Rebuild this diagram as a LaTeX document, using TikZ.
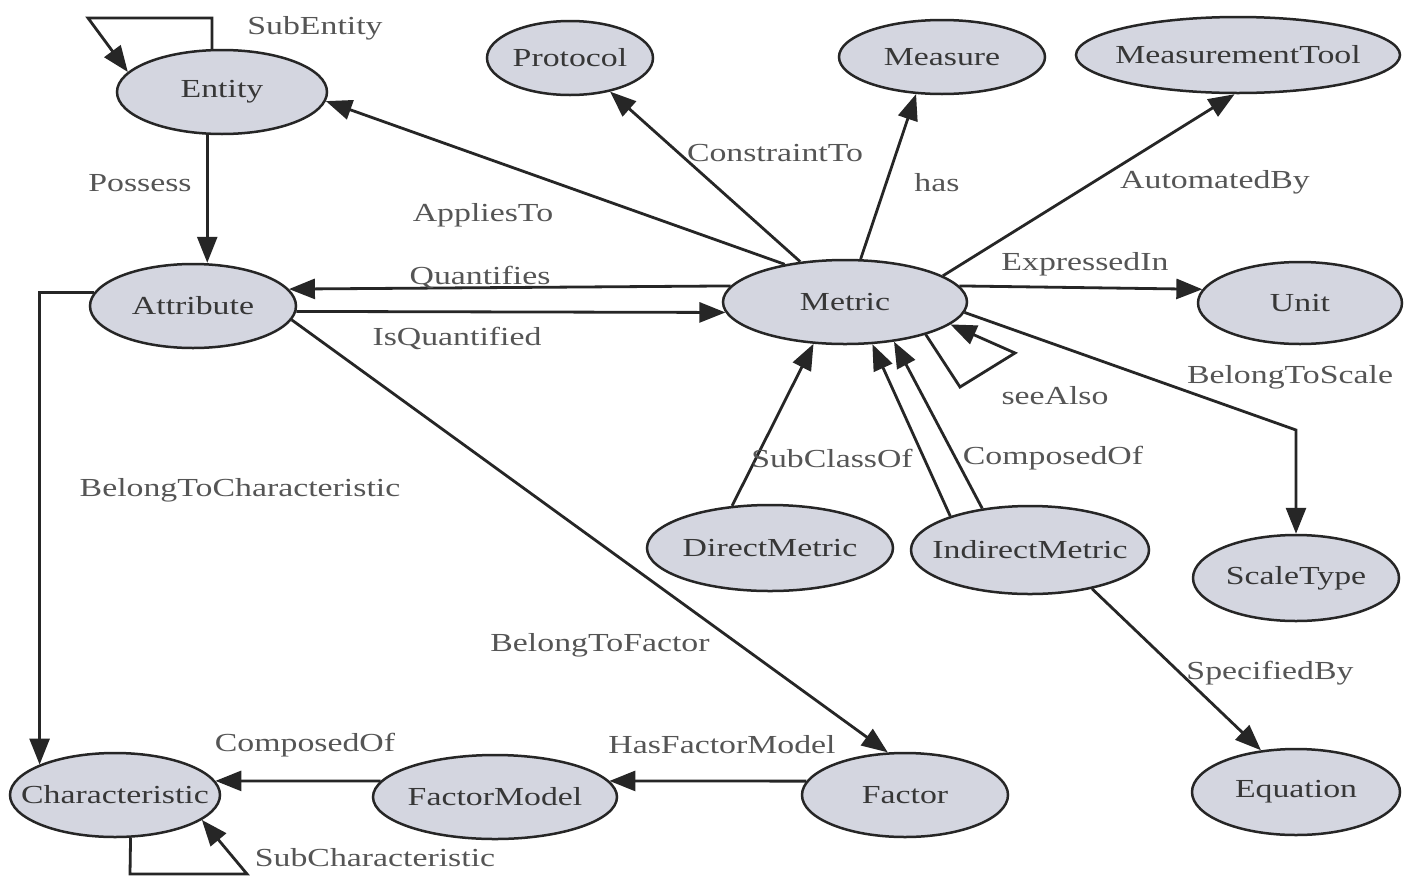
\documentclass[tikz,border=0pt]{standalone}
\usepackage{fontspec}
\setmainfont{Liberation Serif}
\usetikzlibrary{shapes.geometric,arrows.meta}
\definecolor{nodefill}{RGB}{212,214,224}
\definecolor{edgecol}{RGB}{38,38,38}
\definecolor{nodetext}{RGB}{55,55,55}
\definecolor{labeltext}{RGB}{85,85,85}
% wide serif lettering; zero-width box so the ellipse size is set by the style
\newcommand{\ctext}[1]{\makebox[0pt]{\scalebox{1.3}[1]{#1}}}
\newcommand{\ltext}[1]{\scalebox{1.3}[1]{#1}}
\begin{document}
\begin{tikzpicture}[x=1pt,y=-1pt,
  concept/.style={ellipse, draw=edgecol, line width=2.5pt, fill=nodefill,
    inner sep=0pt, text=nodetext, font=\fontsize{26}{30}\selectfont},
  rel/.style={text=labeltext, font=\fontsize{26}{30}\selectfont, inner sep=0pt},
  link/.style={draw=edgecol, line width=2.8pt, -{Triangle[length=26pt,width=20pt]}},
]
\useasboundingbox (0,0) rectangle (1405,876);
\fill[white] (0,0) rectangle (1405,876);

% concepts
\node[concept, minimum width=210pt, minimum height=84pt] (Entity) at (222,92) {\ctext{Entity}};
\node[concept, minimum width=166pt, minimum height=74pt] (Protocol) at (570,58) {\ctext{Protocol}};
\node[concept, minimum width=206pt, minimum height=74pt] (Measure) at (942,57) {\ctext{Measure}};
\node[concept, minimum width=324pt, minimum height=76pt] (MeasurementTool) at (1238,55) {\ctext{MeasurementTool}};
\node[concept, minimum width=206pt, minimum height=84pt] (Attribute) at (193,306) {\ctext{Attribute}};
\node[concept, minimum width=244pt, minimum height=84pt] (Metric) at (845,302) {\ctext{Metric}};
\node[concept, minimum width=204pt, minimum height=82pt] (Unit) at (1300,303) {\ctext{Unit}};
\node[concept, minimum width=246pt, minimum height=86pt] (DirectMetric) at (770,548) {\ctext{DirectMetric}};
\node[concept, minimum width=238pt, minimum height=88pt] (IndirectMetric) at (1030,550) {\ctext{IndirectMetric}};
\node[concept, minimum width=206pt, minimum height=86pt] (ScaleType) at (1296,578) {\ctext{ScaleType}};
\node[concept, minimum width=208pt, minimum height=86pt] (Equation) at (1296,792) {\ctext{Equation}};
\node[concept, minimum width=206pt, minimum height=84pt] (Factor) at (905,795) {\ctext{Factor}};
\node[concept, minimum width=244pt, minimum height=84pt] (FactorModel) at (495,797) {\ctext{FactorModel}};
\node[concept, minimum width=210pt, minimum height=84pt] (Characteristic) at (115,795) {\ctext{Characteristic}};

% bend points of loops and elbows
\coordinate (entTR) at (212,18);
\coordinate (entTL) at (88,18);
\coordinate (scaleBend) at (1296,430);
\coordinate (seeA) at (960,387);
\coordinate (seeB) at (1015,353);
\coordinate (chBL) at (130,874);
\coordinate (chBR) at (247,874);

% relations
\draw[link] (Entity.103) -- (entTR) -- (entTL) -- (Entity.168);
\draw[link] (Entity.-109) -- (Entity.-109 |- Attribute.north);
\draw[link] (Metric.148) -- (Entity.-5);
\draw[link] (Metric.138) -- (Protocol.-40);
\draw[link] (Metric.70) -- (Measure.-125);
\draw[link] (Metric.15) -- (MeasurementTool.-95);
\draw[link] (Metric.8) -- (Unit.172);
\draw[link] (Metric.172) -- (Attribute.10);
\draw[link] (Attribute.-3) -- (Metric.185);
\draw[link] (Metric.-5) -- (scaleBend) -- (ScaleType.north);
\draw[link] (Metric.-22) -- (seeA) -- (seeB) -- (Metric.-12);
\draw[link] (DirectMetric.132) -- (Metric.-127);
\draw[link] (IndirectMetric.157) -- (Metric.-57);
\draw[link] (IndirectMetric.139) -- (Metric.-39);
\draw[link] (IndirectMetric.-32) -- (Equation.130);
\draw[link] (Attribute.-8) -- (Factor.112);
\draw[link] (Attribute.172) -| (Characteristic.158);
\draw[link] (Factor.172) -- (FactorModel.8);
\draw[link] (FactorModel.172) -- (Characteristic.8);
\draw[link] (Characteristic.-70) -- (chBL) -- (chBR) -- (Characteristic.-16);

% relation names
\node[rel] (lSubEntity) at (315,28) {\ltext{SubEntity}};
\node[rel] (lPossess) at (140,183) {\ltext{Possess}};
\node[rel] (lAppliesTo) at (483,215) {\ltext{AppliesTo}};
\node[rel] (lConstraintTo) at (775,153) {\ltext{ConstraintTo}};
\node[rel] (lHas) at (937,183) {\ltext{has}};
\node[rel] (lAutomatedBy) at (1215,182) {\ltext{AutomatedBy}};
\node[rel] (lExpressedIn) at (1085,264) {\ltext{ExpressedIn}};
\node[rel] (lQuantifies) at (480,277) {\ltext{Quantifies}};
\node[rel] (lIsQuantified) at (457,338) {\ltext{IsQuantified}};
\node[rel] (lBelongToScale) at (1290,377) {\ltext{BelongToScale}};
\node[rel] (lSeeAlso) at (1055,396) {\ltext{seeAlso}};
\node[rel] (lSubClassOf) at (832,458) {\ltext{SubClassOf}};
\node[rel] (lComposedOfM) at (1053,458) {\ltext{ComposedOf}};
\node[rel] (lBelongToChar) at (240,490) {\ltext{BelongToCharacteristic}};
\node[rel] (lBelongToFactor) at (600,645) {\ltext{BelongToFactor}};
\node[rel] (lSpecifiedBy) at (1270,673) {\ltext{SpecifiedBy}};
\node[rel] (lHasFactorModel) at (722,745) {\ltext{HasFactorModel}};
\node[rel] (lComposedOfC) at (305,745) {\ltext{ComposedOf}};
\node[rel] (lSubChar) at (375,858) {\ltext{SubCharacteristic}};
\end{tikzpicture}
\end{document}
